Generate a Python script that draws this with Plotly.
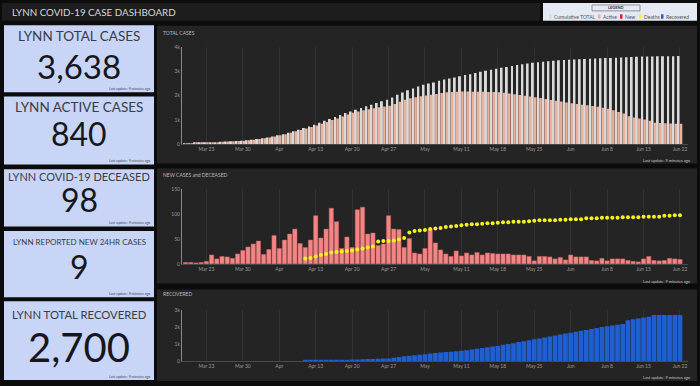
import pandas as pd
import plotly.graph_objects as go

W, H = 700, 386

# ---------------- data ----------------
dates = pd.date_range("2020-03-19", "2020-06-22", freq="D")

cumulative_total = [
    20, 26, 33, 42, 55, 68, 80, 92, 105, 118, 128, 140, 155,
    180, 210, 240, 275, 315, 360,
    410, 470, 530, 590, 660, 730, 800,
    880, 960, 1040, 1120, 1200, 1280, 1350,
    1420, 1490, 1560, 1630, 1700, 1770, 1830,
    1930, 2040, 2130,
    2220, 2300, 2380, 2450,
    2500, 2550, 2620, 2670, 2710, 2750, 2800,
    2850, 2890, 2940, 2990, 3030, 3070, 3110,
    3150, 3190, 3230, 3270, 3300, 3330, 3360,
    3380, 3400, 3420, 3440, 3460, 3475, 3490,
    3500, 3510, 3520, 3530, 3540, 3548, 3555,
    3562, 3570, 3578, 3586, 3595, 3605, 3615,
    3620, 3624, 3627, 3630, 3633, 3635, 3638,
]

active_cases = [
    20, 26, 33, 42, 55, 68, 80, 92, 105, 118, 128, 140, 155,
    180, 210, 240, 275, 315, 360,
    410, 470, 530, 585, 640, 705, 770,
    840, 915, 990, 1060, 1140, 1220, 1290,
    1350, 1400, 1440, 1480, 1520, 1550, 1580,
    1660, 1750, 1830,
    1890, 1940, 1980, 2010,
    2040, 2070, 2110, 2140, 2150, 2160, 2170,
    2170, 2165, 2160, 2160, 2150, 2150, 2140,
    2120, 2090, 2060, 2030, 2000, 1970, 1940,
    1900, 1860, 1820, 1790, 1760, 1720, 1690,
    1660, 1630, 1600, 1570, 1540, 1500, 1460,
    1400, 1330, 1260, 1150, 1100, 1060, 1015,
    960, 880, 870, 860, 850, 845, 840,
]

new_cases = [
    3, 3, 2, 3, 5, 18, 10, 15, 14, 11, 20, 27, 34, 40, 46, 19, 29, 57, 31, 48,
    60, 70, 41, 33, 48, 97, 52, 70, 112, 85, 31, 54, 33, 109, 114, 60, 62, 37,
    40, 97, 70, 69, 33, 51, 22,
    20, 31, 70, 42, 28, 20, 15, 26, 16, 22, 18, 23, 18, 22, 21, 20, 20, 20, 18,
    18, 18, 15, 6, 15, 15, 14, 10, 13, 8, 18, 14, 14, 14, 7, 6, 11, 6, 10, 10,
    10, 7, 5, 4, 10, 15, 7, 6, 7, 11, 10, 9,
]

deceased = [None] * 23 + [
    11, 12, 15, 18, 20, 23, 24, 25, 26, 27, 29, 31, 33, 35, 45, 46, 46, 47, 49,
    52, 63, 66, 67, 68,
    70, 71, 72, 74, 75, 76, 78, 79, 80, 80, 81, 82, 82, 83, 84, 84, 85, 85, 85,
    86, 87, 88, 88, 88, 88, 89, 89, 90, 90, 90, 92, 92, 92, 93, 93, 93, 93, 94,
    94, 94, 94, 95, 95, 95, 95, 97, 97, 98, 98,
]

recovered = [None] * 23 + [
    30, 40, 50, 55, 60, 70, 75, 85, 90, 100,
    110, 120, 130, 140, 150, 160, 170,
    210, 250, 290, 330, 360, 390, 420,
    450, 480, 510, 540, 560, 590, 610,
    650, 690, 730, 780, 820, 860, 900,
    960, 1010, 1060, 1120, 1170, 1230, 1280,
    1330, 1390, 1440, 1500, 1560, 1620, 1670,
    1720, 1780, 1830, 1890, 1940, 2000, 2050,
    2090, 2130, 2170, 2400, 2450, 2500, 2550,
    2600, 2700, 2700, 2700, 2700, 2700, 2700,
]

tick_dates = ["2020-03-23", "2020-03-30", "2020-04-06", "2020-04-13", "2020-04-20",
              "2020-04-27", "2020-05-04", "2020-05-11", "2020-05-18", "2020-05-25",
              "2020-06-01", "2020-06-08", "2020-06-15", "2020-06-22"]
tick_labels = ["Mar 23", "Mar 30", "Apr", "Apr 13", "Apr 20", "Apr 27", "May",
               "May 11", "May 18", "May 25", "Jun", "Jun 8", "Jun 15", "Jun 22"]

kpi_titles = ["LYNN TOTAL CASES", "LYNN ACTIVE CASES", "LYNN COVID-19 DECEASED",
              "LYNN REPORTED NEW 24HR CASES", "LYNN TOTAL RECOVERED"]
kpi_values = ["3,638", "840", "98", "9", "2,700"]

legend_items = ["Cumulative TOTAL", "Active", "New", "Deaths", "Recovered"]
# --------------------------------------

C_TOTAL = "#dadada"
C_ACTIVE = "#e8b29c"
C_NEW = "#f38585"
C_DEATH = "#f4f222"
C_REC = "#1f5fd1"
C_PANEL = "#242424"
C_KPI = "#c8d5f7"


def X(px):
    return px / W


def Y(py):
    return 1 - py / H


DAY = 86400000
x_range = ["2020-03-18 07:30", "2020-06-23 13:00"]

fig = go.Figure()

fig.add_trace(go.Bar(x=dates, y=cumulative_total, xaxis="x", yaxis="y",
                     marker=dict(color=C_TOTAL, line=dict(width=0)),
                     width=0.38 * DAY, offset=-0.47 * DAY, name="Cumulative TOTAL"))
fig.add_trace(go.Bar(x=dates, y=active_cases, xaxis="x", yaxis="y",
                     marker=dict(color=C_ACTIVE, line=dict(width=0)),
                     width=0.50 * DAY, offset=-0.05 * DAY, name="Active"))
fig.add_trace(go.Bar(x=dates, y=new_cases, xaxis="x2", yaxis="y2",
                     marker=dict(color=C_NEW, line=dict(color="#c86060", width=0.5)),
                     width=0.82 * DAY, name="New"))
fig.add_trace(go.Scatter(x=dates, y=deceased, xaxis="x2", yaxis="y2", mode="markers",
                         marker=dict(color=C_DEATH, size=4), name="Deaths"))
fig.add_trace(go.Bar(x=dates, y=recovered, xaxis="x3", yaxis="y3",
                     marker=dict(color=C_REC, line=dict(width=0)),
                     width=0.9 * DAY, name="Recovered"))

xcommon = dict(type="date", range=x_range, tickvals=tick_dates, ticktext=tick_labels,
               tickfont=dict(size=5, color="#9a9a9a", family="Lato"), showgrid=True,
               gridcolor="#323232", gridwidth=1, showline=True, linecolor="#4a4a4a",
               ticks="", zeroline=False, domain=[X(182), X(688)], fixedrange=True)
ycommon = dict(showgrid=False, showline=True, linecolor="#8a8a8a", linewidth=1,
               tickfont=dict(size=5, color="#9a9a9a", family="Lato"), ticks="",
               zeroline=False, fixedrange=True)

fig.update_layout(
    width=W, height=H, margin=dict(l=0, r=0, t=0, b=0),
    paper_bgcolor="#0c0c0c", plot_bgcolor="rgba(0,0,0,0)",
    showlegend=False, barmode="overlay",
    xaxis=dict(xcommon, anchor="y"),
    xaxis2=dict(xcommon, anchor="y2"),
    xaxis3=dict(xcommon, anchor="y3"),
    yaxis=dict(ycommon, anchor="x", domain=[Y(143.3), Y(45)], range=[0, 4000],
               tickvals=[0, 1000, 2000, 3000, 4000], ticktext=["0", "1k", "2k", "3k", "4k"]),
    yaxis2=dict(ycommon, anchor="x2", domain=[Y(265), Y(189.3)], range=[0, 150],
                tickvals=[0, 50, 100, 150]),
    yaxis3=dict(ycommon, anchor="x3", domain=[Y(364), Y(311.7)], range=[0, 3000],
                tickvals=[0, 1000, 2000, 3000], ticktext=["0", "1k", "2k", "3k"]),
)

shapes = []
annots = []


def rect(x0, y0, x1, y1, color, line=None):
    shapes.append(dict(type="rect", xref="paper", yref="paper", layer="below",
                       x0=X(x0), x1=X(x1), y0=Y(y1), y1=Y(y0), fillcolor=color,
                       line=dict(width=0) if line is None else line))


def text(x, y, s, size, color, xanchor="left", family="Lato"):
    annots.append(dict(xref="paper", yref="paper", x=X(x), y=Y(y), text=s,
                       showarrow=False, xanchor=xanchor, yanchor="middle",
                       font=dict(size=size, color=color, family=family)))


# header
rect(2, 0, 540, 18, "#1d1d1d")
text(10, 9.5, "LYNN COVID-19 CASE DASHBOARD", 9.8, "#d8d8d8")

# legend box
rect(543, 0, 697, 18, "#e4e9f4")
shapes.append(dict(type="rect", xref="paper", yref="paper", x0=X(592), x1=X(640),
                   y0=Y(8), y1=Y(2), line=dict(color="#555", width=0.6), fillcolor="#e4e9f4"))
text(616, 5, "<b>LEGEND</b>", 4, "#333", xanchor="center")
legend_pos = [(549, C_TOTAL), (598, C_ACTIVE), (620, "#e02020"), (639, C_DEATH), (661, C_REC)]
for (lx, lc), lbl in zip(legend_pos, legend_items):
    rect(lx, 11.5, lx + 2.5, 16, lc)
    text(lx + 3.2, 14, lbl, 5, "#555")

# chart panels
rect(157, 23, 697, 163, C_PANEL)
rect(157, 168, 697, 285, C_PANEL)
rect(157, 291, 697, 384, C_PANEL)
text(161, 30, "TOTAL CASES", 5, "#bdbdbd")
text(161, 175, "NEW CASES and DECEASED", 5, "#bdbdbd")
text(161, 296, "RECOVERED", 5, "#bdbdbd")
for yy in (159.5, 282.5, 380.5):
    text(693, yy, "Last update: 9 minutes ago", 4, "#c8c8c8", xanchor="right")

# KPI panels
kpi_boxes = [(22.7, 90.7), (95, 164), (169, 227), (231.7, 299), (303, 383)]
kpi_title_y = [34, 106, 176, 242.7, 316.7]
kpi_title_size = [13.5, 13.5, 11, 8, 11.3]
kpi_value_y = [64.5, 133, 200, 268, 349]
kpi_value_size = [33, 32, 32, 32, 40]
for (y0, y1), t, ty, ts, v, vy, vs in zip(kpi_boxes, kpi_titles, kpi_title_y, kpi_title_size,
                                         kpi_values, kpi_value_y, kpi_value_size):
    rect(4, y0, 154, y1, C_KPI)
    text(79, ty, t, ts, "#3a3d44", xanchor="center")
    text(79, vy, v, vs, "#15171c", xanchor="center")
    text(152, y1 - 3.5, "Last update: 9 minutes ago", 3.5, "#44474f", xanchor="right")

fig.update_layout(shapes=shapes, annotations=annots)
fig.write_html(
    "out.html",
    config={"displayModeBar": False},
    post_script="document.body.style.margin='0';document.body.style.overflow='hidden';",
)
